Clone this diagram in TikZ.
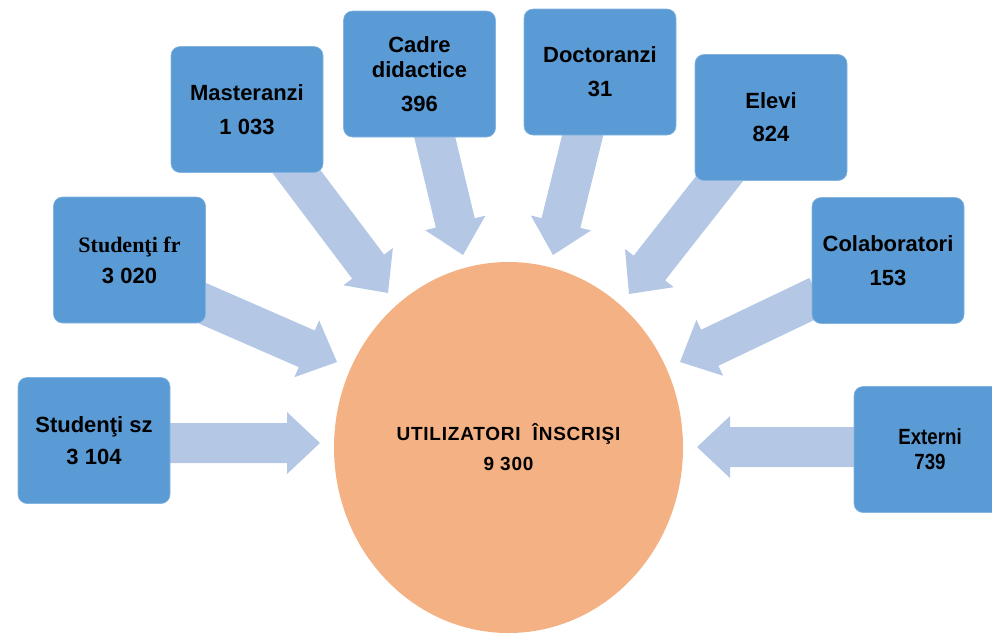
\documentclass[tikz,border=0pt]{standalone}
\usepackage{fontspec}
\setmainfont{Liberation Sans}
\newfontfamily\serifbf{Liberation Serif}
\usetikzlibrary{calc,shapes.geometric}
\definecolor{boxblue}{HTML}{5B9BD5}
\definecolor{arrowblue}{HTML}{B4C8E6}
\definecolor{ovalorange}{HTML}{F4B183}
\newcommand\blockarrow[2]{%
  \path ($(#2)!33pt!(#1)$) coordinate (#2-hb);
  \fill[arrowblue] ($(#1)!20pt!90:(#2)$) -- ($(#2-hb)!20pt!90:(#2)$)
    -- ($(#2-hb)!31pt!90:(#2)$) -- (#2) -- ($(#2-hb)!31pt!-90:(#2)$)
    -- ($(#2-hb)!20pt!-90:(#2)$) -- ($(#1)!20pt!-90:(#2)$) -- cycle;}
\begin{document}
\begin{tikzpicture}[x=1pt,y=-1pt,
  infobox/.style={rectangle, rounded corners=9pt, fill=boxblue,
    draw=boxblue!75!white, line width=0.6pt,
    minimum width=152pt, minimum height=126pt, inner sep=0pt,
    align=center, font=\bfseries\fontsize{22}{25}\selectfont},
  hub/.style={ellipse, fill=ovalorange, minimum width=349pt,
    minimum height=371pt, inner sep=0pt, align=center,
    font=\bfseries\fontsize{19}{30}\selectfont}]
\useasboundingbox (0,0) rectangle (992,633);
\clip (0,0) rectangle (992,633);

% arrow coordinates
\coordinate (s1) at (165,443); \coordinate (t1) at (320,443);
\coordinate (s2) at (195,300); \coordinate (t2) at (337,362);
\coordinate (s3) at (284,155); \coordinate (t3) at (388,293);
\coordinate (s4) at (433,130); \coordinate (t4) at (463,255);
\coordinate (s5) at (584,130); \coordinate (t5) at (553,255);
\coordinate (s6) at (731,164); \coordinate (t6) at (629,294);
\coordinate (s7) at (818,296); \coordinate (t7) at (680,362);
\coordinate (s8) at (860,447); \coordinate (t8) at (697,447);

\blockarrow{s1}{t1}
\blockarrow{s2}{t2}
\blockarrow{s3}{t3}
\blockarrow{s4}{t4}
\blockarrow{s5}{t5}
\blockarrow{s6}{t6}
\blockarrow{s7}{t7}
\blockarrow{s8}{t8}

\node[hub] (hub) at (508.5,447.5)
  {\addfontfeature{LetterSpace=4}UTILIZATORI\ \ ÎNSCRIŞI\\\addfontfeature{LetterSpace=4}9 300};

\node[infobox] (sz) at (94,440.5) {Studenţi sz\\[7pt]3 104};
\node[infobox] (fr) at (129.5,260) {{\serifbf Studenţi fr}\\[6pt]3 020};
\node[infobox] (ma) at (247,109.5) {Masteranzi\\[9pt]1 033};
\node[infobox] (cd) at (419.5,74) {Cadre\\didactice\\[9pt]396};
\node[infobox] (dc) at (600,72) {Doctoranzi\\[9pt]31};
\node[infobox] (el) at (771,117.5) {Elevi\\[8pt]824};
\node[infobox] (co) at (888,260.5) {Colaboratori\\[9pt]153};
\node[infobox] (ex) at (930,449.5)
  {\addfontfeature{FakeStretch=0.85}\fontsize{22}{27}\selectfont Externi\\\addfontfeature{FakeStretch=0.85}\fontsize{22}{27}\selectfont 739};
\end{tikzpicture}
\end{document}
